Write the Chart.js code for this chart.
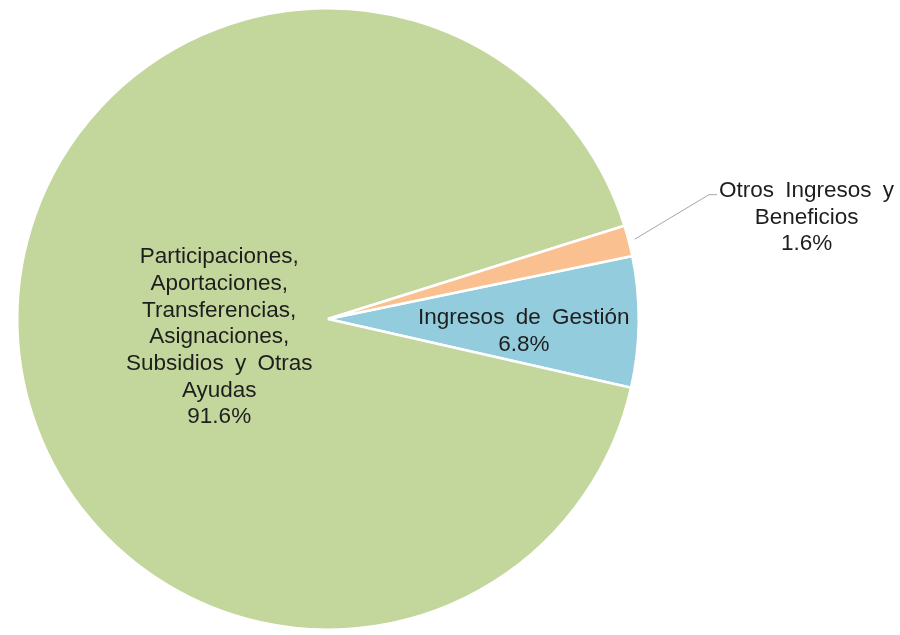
<!DOCTYPE html>
<html>
<head>
<meta charset="utf-8">
<script src="https://cdn.jsdelivr.net/npm/chart.js@4/dist/chart.umd.min.js"></script>
<style>
  html, body { margin: 0; padding: 0; background: #fff; }
  #wrap { width: 900px; height: 635px; position: relative; }
</style>
</head>
<body>
<div id="wrap"><canvas id="pieChart"></canvas></div>
<script>
const categories = [
  ['Ingresos de Gestión'],
  ['Participaciones,', 'Aportaciones,', 'Transferencias,', 'Asignaciones,', 'Subsidios y Otras', 'Ayudas'],
  ['Otros Ingresos y', 'Beneficios']
];
const shares = [6.8, 91.6, 1.6];
const sliceColors = ['#93CDDD', '#C3D69B', '#FAC090'];

// where each label block sits, relative to the pie centre in radius units
const labelSpots = [
  { dx: 0.63, dy: 0.04, outside: false },
  { dx: -0.35, dy: 0.058, outside: false },
  { dx: 1.54, dy: -0.327, outside: true }
];

const FONT = '22.5px "Liberation Sans", Arial, sans-serif';
const LINE_H = 26.7;

const pieLabels = {
  id: 'pieLabels',
  afterDatasetsDraw(chart) {
    const ctx = chart.ctx;
    const arcs = chart.getDatasetMeta(0).data;
    ctx.save();
    ctx.font = FONT;
    ctx.wordSpacing = '5px';
    ctx.fillStyle = '#1e1e1e';
    ctx.textAlign = 'center';
    ctx.textBaseline = 'middle';
    arcs.forEach((arc, i) => {
      const r = arc.outerRadius;
      const lines = categories[i].concat([shares[i].toFixed(1) + '%']);
      const cx = arc.x + labelSpots[i].dx * r;
      const cy = arc.y + labelSpots[i].dy * r;
      const top = cy - (lines.length - 1) * LINE_H / 2;
      lines.forEach((t, k) => ctx.fillText(t, cx, top + k * LINE_H));

      if (labelSpots[i].outside) {
        const mid = (arc.startAngle + arc.endAngle) / 2;
        const sx = arc.x + Math.cos(mid) * r * 1.02;
        const sy = arc.y + Math.sin(mid) * r * 1.02;
        const w = ctx.measureText(lines[0]).width;
        const ex = cx - w / 2 - 2;
        ctx.strokeStyle = '#A6A6A6';
        ctx.lineWidth = 1;
        ctx.beginPath();
        ctx.moveTo(sx, sy);
        ctx.lineTo(ex - 8, top + 4);
        ctx.lineTo(ex, top + 4);
        ctx.stroke();
      }
    });
    ctx.restore();
  }
};

new Chart(document.getElementById('pieChart'), {
  type: 'pie',
  data: {
    labels: categories.map(c => c.join(' ')),
    datasets: [{
      data: shares,
      backgroundColor: sliceColors,
      borderColor: '#ffffff',
      borderWidth: 2.5
    }]
  },
  options: {
    responsive: true,
    maintainAspectRatio: false,
    animation: false,
    rotation: 78.3,
    layout: { padding: { left: 16, right: 260, top: 7, bottom: 4 } },
    plugins: {
      legend: { display: false },
      tooltip: { enabled: false }
    }
  },
  plugins: [pieLabels]
});
</script>
</body>
</html>
